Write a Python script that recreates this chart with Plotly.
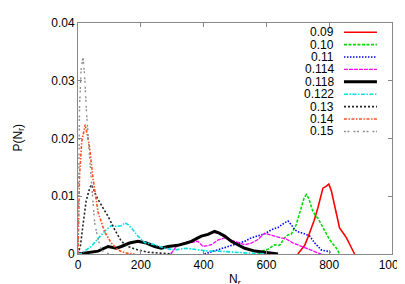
import plotly.graph_objects as go

labels = ["0.09", "0.10", "0.11", "0.114", "0.118", "0.122", "0.13", "0.14", "0.15"]

x_009 = [700, 712, 722, 733, 743, 752, 764, 772, 780, 790, 799, 807, 817, 825, 833, 845, 855, 866, 875, 881]
y_009 = [0, 0.0008, 0.0015, 0.0030, 0.0045, 0.0058, 0.0080, 0.0098, 0.0114, 0.0117, 0.0121, 0.0109, 0.0085, 0.0062, 0.0045, 0.0036, 0.0028, 0.0016, 0.0006, 0]

x_010 = [575, 584, 605, 626, 642, 658, 668, 679, 695, 703, 711, 720, 727, 733, 738, 748, 756, 764, 772, 780, 790, 801, 812, 823, 833]
y_010 = [0, 0.0005, 0.0008, 0.0016, 0.0015, 0.0028, 0.0033, 0.0034, 0.0051, 0.0065, 0.0080, 0.0097, 0.0103, 0.0098, 0.0091, 0.0074, 0.0067, 0.0062, 0.0054, 0.0045, 0.0036, 0.0025, 0.0017, 0.0010, 0]

x_011 = [403, 430, 455, 478, 505, 531, 552, 573, 595, 616, 637, 658, 669, 680, 690, 703, 717, 738, 754, 775, 790, 801, 805]
y_011 = [0, 0.0004, 0.0009, 0.0013, 0.0017, 0.0022, 0.0028, 0.0031, 0.0035, 0.0042, 0.0046, 0.0054, 0.0057, 0.0050, 0.0042, 0.0038, 0.0036, 0.0031, 0.0019, 0.0007, 0.0005, 0.0004, 0]

x_0114 = [295, 308, 318, 350, 382, 398, 425, 445, 467, 499, 531, 552, 573, 594, 610, 626, 647, 663, 685, 711, 743, 764, 775]
y_0114 = [0, 0.0010, 0.0016, 0.0019, 0.0022, 0.0013, 0.0016, 0.0024, 0.0028, 0.0022, 0.0016, 0.0019, 0.0025, 0.0036, 0.0033, 0.0031, 0.0028, 0.0026, 0.0019, 0.0013, 0.0007, 0.0002, 0]

x_0118 = [0, 32, 64, 96, 122, 138, 164, 191, 218, 244, 265, 287, 318, 345, 361, 382, 393, 414, 435, 450, 467, 488, 510, 531, 563, 605, 637]
y_0118 = [0, 0.0002, 0.0005, 0.0013, 0.0010, 0.0013, 0.0019, 0.0022, 0.0019, 0.0013, 0.0010, 0.0013, 0.0015, 0.0019, 0.0022, 0.0028, 0.0031, 0.0034, 0.0039, 0.0036, 0.0031, 0.0022, 0.0016, 0.0010, 0.0005, 0.0002, 0]

x_0122 = [0, 10, 42, 64, 74, 90, 106, 122, 138, 150, 159, 175, 191, 212, 244, 276, 308, 345, 382, 414, 446, 490, 531, 600]
y_0122 = [0, 0.0001, 0.0013, 0.0028, 0.0033, 0.0042, 0.0049, 0.0048, 0.0049, 0.0054, 0.0051, 0.0042, 0.0031, 0.0020, 0.0016, 0.0010, 0.0007, 0.0010, 0.0007, 0.0005, 0.0005, 0.0003, 0.0002, 0]

x_013 = [0, 8, 16, 26, 35, 42, 50, 58, 74, 96, 117, 138, 159, 191, 223, 265, 300]
y_013 = [0, 0.0015, 0.0051, 0.0092, 0.0110, 0.0120, 0.0112, 0.0100, 0.0085, 0.0065, 0.0042, 0.0022, 0.0013, 0.0007, 0.0003, 0.0002, 0]

x_014 = [0, 5, 12, 23, 30, 37, 48, 58, 64, 85, 106, 127, 149, 180]
y_014 = [0, 0.0137, 0.0195, 0.0224, 0.0205, 0.0184, 0.0130, 0.0090, 0.0072, 0.0038, 0.0019, 0.0007, 0.0002, 0]

x_015 = [0, 5, 10, 16, 21, 26, 37, 48, 53, 64, 74, 90, 100]
y_015 = [0, 0.0256, 0.0320, 0.0342, 0.0310, 0.0256, 0.0166, 0.0080, 0.0054, 0.0025, 0.0007, 0.0002, 0]

xs = [x_009, x_010, x_011, x_0114, x_0118, x_0122, x_013, x_014, x_015]
ys = [y_009, y_010, y_011, y_0114, y_0118, y_0122, y_013, y_014, y_015]

colors = ["#ff0000", "#00dd00", "#0000ff", "#ff00ff", "#000000", "#00e0e0", "#202020", "#ff5020", "#909090"]
dashes = ["solid", "3px,1.5px", "1.5px,1.5px", "4px,1px", "solid", "4px,1.5px,1.5px,1.5px", "2px,2px", "3px,1.5px,1.5px,1.5px", "2px,1.5px,2px,4px"]
widths = [1.6, 1.6, 1.6, 1.3, 3.0, 1.6, 1.6, 1.6, 1.4]

fig = go.Figure()
for lab, x, y, c, d, w in zip(labels, xs, ys, colors, dashes, widths):
    fig.add_trace(go.Scatter(x=x, y=y, mode="lines", name=lab, showlegend=False,
                             line=dict(color=c, dash=d, width=w)))

# legend: text right-aligned, sample line on the right (gnuplot style)
row0 = 0.960
step = 0.0537
for i, (lab, c, d, w) in enumerate(zip(labels, colors, dashes, widths)):
    yy = row0 - i * step
    fig.add_annotation(x=0.822, y=yy, xref="paper", yref="paper", text=lab,
                       showarrow=False, xanchor="right", yanchor="middle",
                       font=dict(family="Liberation Sans, Arial, sans-serif", size=12, color="#000"))
    fig.add_shape(type="line", xref="paper", yref="paper", x0=0.847, x1=0.952, y0=yy, y1=yy,
                  line=dict(color=c, dash=d, width=w))

# axis titles placed like the reference
fig.add_annotation(x=-0.191, y=0.5, xref="paper", yref="paper", text="P(N<sub>r</sub>)",
                   textangle=-90, showarrow=False, xanchor="center", yanchor="middle",
                   font=dict(family="Liberation Sans, Arial, sans-serif", size=12, color="#000"))
fig.add_annotation(x=0.5, y=-0.112, xref="paper", yref="paper", text="N<sub>r</sub>",
                   showarrow=False, xanchor="center", yanchor="middle",
                   font=dict(family="Liberation Sans, Arial, sans-serif", size=12, color="#000"))

axis_common = dict(showgrid=False, zeroline=False, showline=True, mirror="ticks",
                   linecolor="#888888", linewidth=1, ticks="inside", ticklen=4,
                   tickcolor="#888888", tickfont=dict(size=12, color="#000"), automargin=False)

fig.update_layout(
    width=405, height=284,
    margin=dict(l=70, r=21, t=15, b=38),
    paper_bgcolor="white", plot_bgcolor="white",
    font=dict(family="Liberation Sans, Arial, sans-serif", size=12, color="#000"),
    xaxis=dict(range=[0, 1000], tickvals=[0, 200, 400, 600, 800, 1000], **axis_common),
    yaxis=dict(range=[0, 0.04], tickvals=[0, 0.01, 0.02, 0.03, 0.04],
               ticktext=["0", "0.01", "0.02", "0.03", "0.04"], **axis_common),
)

fig.write_html("out.html")
